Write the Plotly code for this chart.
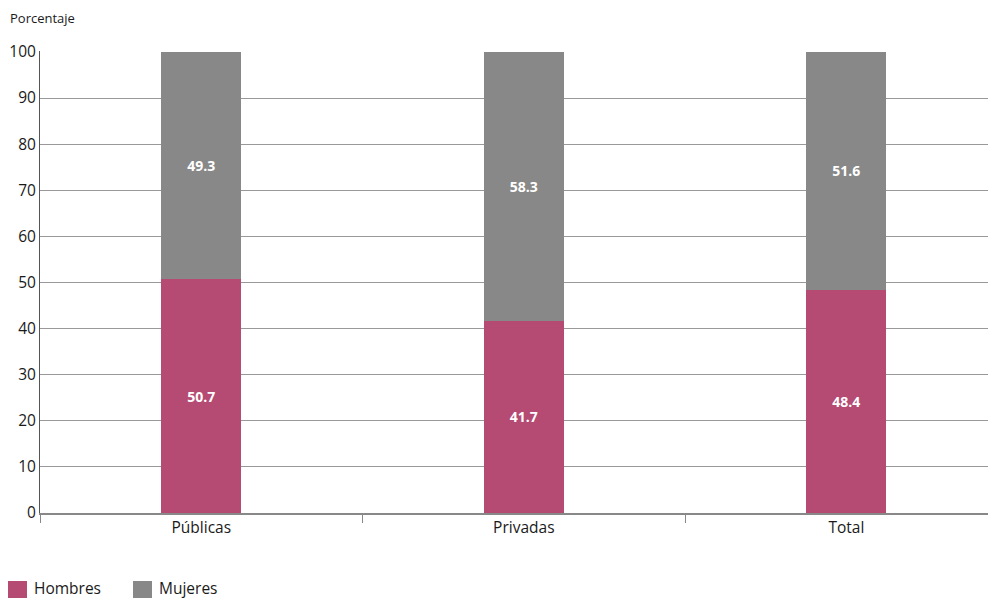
import plotly.graph_objects as go

categories = ["Públicas", "Privadas", "Total"]
hombres = [50.7, 41.7, 48.4]
mujeres = [49.3, 58.3, 51.6]
y_ticks = [0, 10, 20, 30, 40, 50, 60, 70, 80, 90, 100]
series_names = ["Hombres", "Mujeres"]

PINK = "#B54A73"
GRAY = "#888888"
TXT = "#1a1a1a"
FONT = "Open Sans, Noto Sans, sans-serif"

# figure is placed by the page at (8, 8), so size and margins are reduced by 8 px
W, H = 988, 591
L, R, T, B = 32, 0, 43, 86
PW, PH = W - L - R, H - T - B


def px(fx):
    return (fx - L) / PW


def py(fy):
    return (H - B - fy) / PH


fig = go.Figure()
for name, vals, col in [(series_names[0], hombres, PINK), (series_names[1], mujeres, GRAY)]:
    fig.add_trace(go.Bar(
        name=name, x=categories, y=vals, marker_color=col, width=0.248,
        marker_line_width=0,
        text=[f"{v:.1f}" for v in vals], textposition="inside",
        insidetextanchor="middle",
        textfont=dict(color="white", size=14, family=FONT, weight="bold"),
        hoverinfo="skip", showlegend=False,
    ))

shapes = []
annotations = [dict(text="Porcentaje", xref="paper", yref="paper",
                    x=px(0), xanchor="left", y=py(10), yanchor="middle",
                    showarrow=False, font=dict(size=13, color=TXT))]
legend_items = [(series_names[0], PINK, 0), (series_names[1], GRAY, 125)]
for name, col, x0 in legend_items:
    shapes.append(dict(type="rect", xref="paper", yref="paper",
                       x0=px(x0), x1=px(x0 + 19), y0=py(590), y1=py(573),
                       fillcolor=col, line_width=0))
    annotations.append(dict(text=name, xref="paper", yref="paper",
                            x=px(x0 + 25), xanchor="left", y=py(580), yanchor="middle",
                            borderpad=0,
                            showarrow=False, font=dict(size=15.5, color=TXT)))

fig.update_layout(
    barmode="stack",
    width=W, height=H,
    margin=dict(l=L, r=R, t=T, b=B, autoexpand=False),
    plot_bgcolor="white", paper_bgcolor="white",
    font=dict(family=FONT, size=15.5, color=TXT),
    showlegend=False,
    uniformtext=dict(mode="show", minsize=14),
    shapes=shapes,
    annotations=annotations,
)
fig.update_xaxes(
    type="category", range=[-0.5, 2.464],
    showline=True, linecolor="#888888", linewidth=1.5,
    ticks="outside", tickson="boundaries", ticklen=8, tickcolor="#888888",
    showgrid=False, tickfont=dict(size=15.5, color=TXT),
)
fig.update_yaxes(
    range=[0, 100.2], tickvals=y_ticks,
    showline=True, linecolor="#555555", linewidth=1,
    showgrid=True, gridcolor="#999999", gridwidth=1,
    zeroline=False, ticks="", ticklabelstandoff=0,
    tickfont=dict(size=15.5, color=TXT),
)

fig.write_html("out.html")
